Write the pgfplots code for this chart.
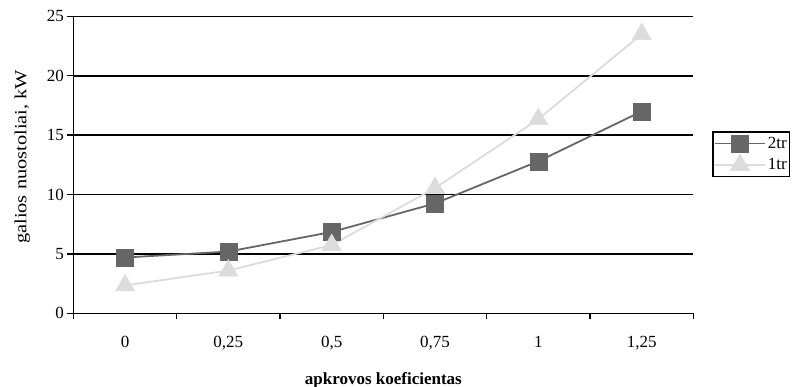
\documentclass[border=0pt]{standalone}
\usepackage{fontspec}
\setmainfont{Liberation Serif}
\usepackage{graphicx}
\usepackage{pgfplots}
\pgfplotsset{compat=1.18}
\definecolor{darkser}{HTML}{666666}
\definecolor{lightser}{HTML}{DCDCDC}
\begin{document}
\begin{tikzpicture}[x=1pt,y=1pt]
\begin{axis}[
  at={(71,62)}, anchor=south west,
  scale only axis, width=620pt, height=297pt,
  xmin=-0.5, xmax=5.5, ymin=0, ymax=25,
  axis x line*=bottom, axis y line*=left,
  axis line style={line width=1.6pt, -},
  xtick={0,...,5},
  xticklabels={0,{0,25},{0,5},{0,75},1,{1,25}},
  major x tick style={draw=none},
  minor xtick={-0.5,0.5,...,5.5},
  minor x tick style={line width=1.4pt, black},
  ytick={0,5,...,25},
  tick align=outside,
  major tick length=6pt, minor tick length=6pt,
  y tick style={line width=1.4pt, black},
  ymajorgrids, grid style={line width=1.6pt, black},
  x tick label style={yshift=-13pt},
  ticklabel style={font=\fontsize{17}{20}\selectfont},
  /pgf/number format/assume math mode=true,
  xlabel={\textbf{apkrovos koeficientas}},
  xlabel style={font=\fontsize{17}{20}\selectfont, yshift=-16pt},
  ylabel={\scalebox{1.2}[1]{galios nuostoliai, kW}},
  ylabel style={font=\fontsize{17}{20}\selectfont, yshift=10pt, xshift=8pt},
  legend style={at={(1.0306,0.6128)}, anchor=north west,
    draw=black, line width=1.4pt, font=\fontsize{17}{20}\selectfont,
    inner xsep=1pt, inner ysep=3pt, row sep=2pt},
  legend cell align=left,
  legend image code/.code={
    \draw[#1, mark repeat=2, mark phase=2] plot coordinates {(0pt,0pt) (25pt,0pt) (50pt,0pt)};
  },
]
\addplot[darkser, line width=1.8pt, mark=square*, mark size=8.5pt,
  mark options={solid, fill=darkser, draw=darkser, line width=0.5pt}]
  coordinates {(0,4.7) (1,5.2) (2,6.85) (3,9.25) (4,12.8) (5,17.0)};
\addlegendentry{2tr}
\addplot[lightser, line width=1.8pt, mark=triangle*, mark size=11pt,
  mark options={solid, fill=lightser, draw=lightser, line width=0.5pt}]
  coordinates {(0,2.35) (1,3.6) (2,5.75) (3,10.55) (4,16.35) (5,23.5)};
\addlegendentry{1tr}
\end{axis}
% fix the page to a 801 x 387 frame
\pgfresetboundingbox
\useasboundingbox (0,0) rectangle (801,387);
\end{tikzpicture}
\end{document}
